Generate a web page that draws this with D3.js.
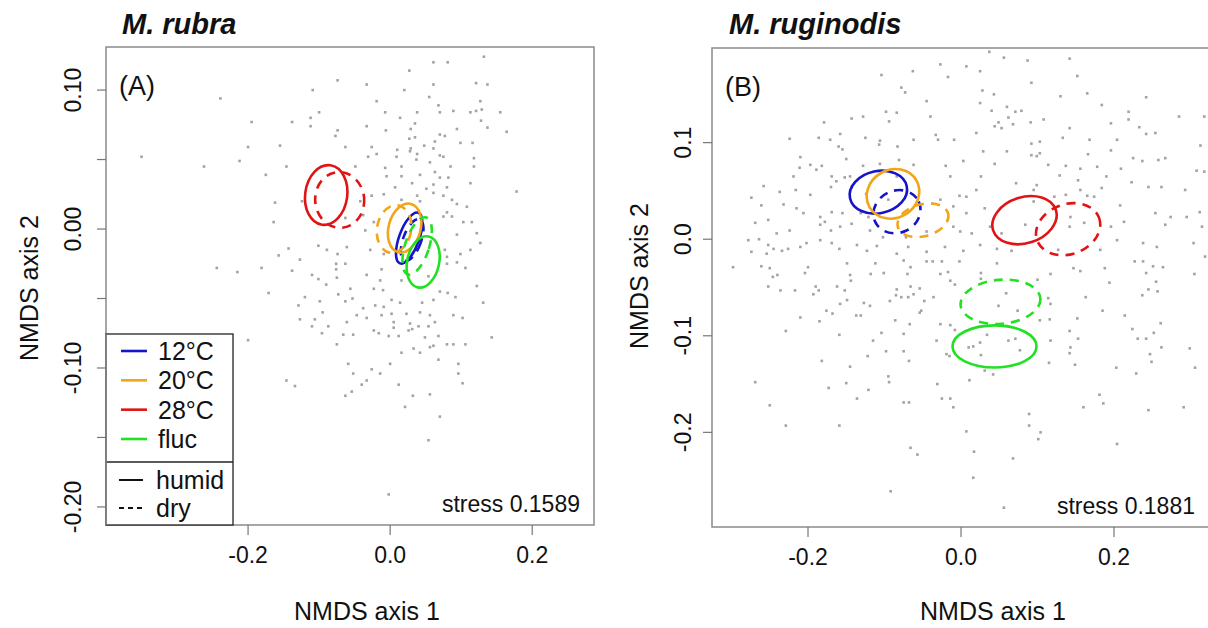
<!DOCTYPE html>
<html><head><meta charset="utf-8">
<script src="https://cdn.jsdelivr.net/npm/d3@7/dist/d3.min.js"></script>
<style>
body{margin:0;background:#fff;}
svg text{font-family:"Liberation Sans",Arial,sans-serif;fill:#111;}
</style></head>
<body><svg id="c" width="1208" height="628"></svg>
<script>
// ---------------- data ----------------
const temps = ["12°C","20°C","28°C","fluc"];
const tempColors = ["#1414c8","#f2a516","#e01414","#22e022"];
const conds = ["humid","dry"];
const titles = ["M. rubra","M. ruginodis"];
const panelTags = ["(A)","(B)"];
const stressA = "stress 0.1589", stressB = "stress 0.1881";
const xTicksA = [-0.2,0.0,0.2];
const yTicksA = [0.10,0.05,0.00,-0.05,-0.10,-0.15,-0.20];
const yLabelsA = [0.10,0.00,-0.10,-0.20];
const xTicksB = [-0.2,0.0,0.2];
const yTicksB = [0.1,0.0,-0.1,-0.2];

// ellipses: temp, condition, centre, radii (data units), tilt (deg)
const ellA = [
 {t:"12°C",c:"humid",cx:0.0268,cy:-0.0065,rx:0.0141,ry:0.0194,a:20},
 {t:"12°C",c:"dry",cx:0.031,cy:-0.0079,rx:0.0127,ry:0.0158,a:20},
 {t:"20°C",c:"humid",cx:0.0204,cy:0.0007,rx:0.0225,ry:0.018,a:15},
 {t:"20°C",c:"dry",cx:0.0056,cy:0.0,rx:0.024,ry:0.0173,a:10},
 {t:"28°C",c:"humid",cx:-0.090,cy:0.0245,rx:0.0296,ry:0.0216,a:8},
 {t:"28°C",c:"dry",cx:-0.071,cy:0.0209,rx:0.0345,ry:0.0201,a:-5},
 {t:"fluc",c:"humid",cx:0.0465,cy:-0.0237,rx:0.0225,ry:0.0187,a:12},
 {t:"fluc",c:"dry",cx:0.038,cy:-0.0122,rx:0.0169,ry:0.0216,a:18}
];
const ellB = [
 {t:"12°C",c:"humid",cx:-0.108,cy:0.0487,rx:0.0379,ry:0.0218,a:-12},
 {t:"12°C",c:"dry",cx:-0.0837,cy:0.0285,rx:0.0314,ry:0.0218,a:-25},
 {t:"20°C",c:"humid",cx:-0.0889,cy:0.047,rx:0.0353,ry:0.0249,a:-30},
 {t:"20°C",c:"dry",cx:-0.0497,cy:0.0197,rx:0.034,ry:0.0166,a:-15},
 {t:"28°C",c:"humid",cx:0.083,cy:0.0197,rx:0.0431,ry:0.0238,a:-18},
 {t:"28°C",c:"dry",cx:0.140,cy:0.0104,rx:0.0431,ry:0.0259,a:-20},
 {t:"fluc",c:"humid",cx:0.0438,cy:-0.111,rx:0.0549,ry:0.0218,a:0},
 {t:"fluc",c:"dry",cx:0.0516,cy:-0.0648,rx:0.0523,ry:0.0228,a:-5}
];

// sample scores (NMDS axis 1, axis 2)
const ptsA = [
[0.132,0.124],[0.061,0.120],[0.081,0.120],[0.027,0.114],[-0.074,0.107],[-0.033,0.104],[0.061,0.104],[0.121,0.105],[0.137,0.104],[-0.109,0.100],
[0.020,0.100],[-0.239,0.094],[0.055,0.095],[-0.019,0.092],[0.127,0.092],[0.068,0.089],[0.089,0.085],[0.113,0.084],[0.121,0.085],[0.129,0.086],
[0.155,0.084],[-0.100,0.084],[-0.007,0.084],[0.038,0.084],[0.070,0.084],[0.014,0.080],[-0.112,0.080],[-0.195,0.077],[-0.138,0.077],[0.128,0.078],
[-0.112,0.074],[-0.033,0.074],[0.035,0.076],[-0.006,0.071],[0.029,0.072],[0.094,0.072],[0.137,0.073],[0.164,0.070],[-0.074,0.071],[-0.077,0.067],
[0.070,0.068],[0.077,0.067],[0.035,0.066],[0.027,0.065],[0.063,0.063],[0.099,0.062],[0.116,0.062],[-0.155,0.060],[-0.200,0.059],[-0.063,0.059],
[-0.026,0.059],[0.010,0.057],[0.029,0.058],[0.061,0.058],[0.048,0.060],[-0.019,0.054],[0.028,0.056],[0.038,0.054],[-0.031,0.052],[0.070,0.053],
[0.075,0.052],[0.009,0.052],[0.037,0.050],[0.118,0.051],[-0.212,0.049],[-0.262,0.045],[-0.350,0.052],[-0.146,0.045],[-0.049,0.045],[-0.007,0.044],
[0.016,0.045],[0.056,0.048],[0.085,0.045],[0.118,0.045],[-0.175,0.039],[-0.005,0.038],[0.016,0.038],[0.042,0.039],[0.063,0.041],[0.070,0.037],
[0.082,0.037],[0.113,0.033],[0.007,0.030],[0.031,0.033],[0.061,0.032],[0.178,0.027],[0.051,0.029],[0.080,0.030],[0.075,0.024],[0.061,0.026],
[-0.009,0.025],[-0.026,0.024],[0.038,0.024],[0.016,0.021],[0.042,0.020],[0.087,0.021],[0.094,0.018],[0.108,0.016],[0.080,0.012],[-0.162,0.019],
[-0.164,0.005],[-0.124,0.020],[-0.042,0.020],[-0.038,0.010],[-0.023,0.005],[-0.063,0.008],[0.075,0.009],[0.087,0.009],[0.103,0.005],[0.115,0.005],
[0.094,-0.004],[0.122,-0.003],[0.127,-0.010],[0.099,-0.018],[0.077,-0.015],[-0.035,-0.001],[-0.061,-0.013],[-0.074,-0.018],[-0.089,-0.015],[-0.101,-0.012],
[-0.028,-0.015],[-0.009,-0.018],[-0.143,-0.014],[-0.157,-0.019],[-0.127,-0.022],[-0.063,-0.025],[-0.012,-0.029],[-0.181,-0.028],[-0.244,-0.028],[0.094,-0.024],
[0.113,-0.015],[0.080,-0.020],[-0.215,-0.031],[-0.138,-0.030],[-0.076,-0.025],[-0.076,-0.029],[0.080,-0.025],[0.106,-0.028],[-0.110,-0.033],[-0.101,-0.036],
[-0.075,-0.035],[-0.033,-0.033],[-0.014,-0.037],[0.016,-0.037],[0.054,-0.034],[-0.171,-0.046],[-0.120,-0.049],[-0.090,-0.040],[-0.073,-0.047],[-0.056,-0.043],
[-0.023,-0.043],[-0.010,-0.044],[0.070,-0.045],[0.081,-0.046],[0.092,-0.049],[0.122,-0.041],[0.131,-0.053],[-0.129,-0.055],[-0.099,-0.052],[-0.063,-0.052],
[-0.053,-0.050],[0.014,-0.053],[0.002,-0.051],[0.045,-0.053],[0.061,-0.051],[-0.038,-0.057],[-0.021,-0.055],[-0.009,-0.056],[-0.127,-0.065],[-0.106,-0.065],
[-0.095,-0.060],[-0.061,-0.067],[-0.047,-0.062],[-0.033,-0.064],[-0.012,-0.062],[0.002,-0.061],[0.023,-0.061],[0.042,-0.060],[0.056,-0.062],[0.089,-0.062],
[0.102,-0.064],[-0.110,-0.070],[-0.096,-0.075],[-0.087,-0.070],[-0.066,-0.076],[-0.052,-0.076],[-0.023,-0.073],[-0.016,-0.075],[0.005,-0.067],[0.005,-0.071],
[0.026,-0.073],[0.028,-0.068],[0.040,-0.070],[0.054,-0.070],[0.063,-0.067],[-0.075,-0.083],[-0.002,-0.077],[0.012,-0.077],[0.031,-0.072],[0.049,-0.078],
[0.061,-0.084],[0.068,-0.077],[0.080,-0.083],[0.089,-0.083],[0.106,-0.083],[0.143,-0.078],[-0.200,-0.080],[-0.059,-0.097],[-0.052,-0.104],[-0.026,-0.101],
[-0.014,-0.104],[0.000,-0.097],[0.016,-0.089],[0.033,-0.086],[0.042,-0.089],[0.056,-0.085],[0.068,-0.094],[0.096,-0.097],[-0.033,-0.109],[-0.040,-0.112],
[0.012,-0.112],[0.096,-0.104],[0.102,-0.111],[-0.146,-0.109],[-0.134,-0.113],[-0.063,-0.120],[-0.054,-0.117],[0.032,-0.120],[0.056,-0.119],[0.021,-0.128],
[0.070,-0.135],[0.054,-0.152],[-0.002,-0.191]
];
const ptsB = [
[0.037,0.194],[0.056,0.188],[0.087,0.185],[0.142,0.187],[-0.027,0.181],[0.007,0.179],[0.025,0.174],[-0.063,0.174],[-0.104,0.170],[-0.017,0.168],
[0.092,0.162],[0.152,0.169],[-0.078,0.157],[-0.073,0.152],[0.028,0.154],[0.043,0.150],[0.165,0.151],[-0.045,0.143],[0.130,0.148],[0.242,0.147],
[0.025,0.141],[0.060,0.137],[0.071,0.132],[0.079,0.133],[0.184,0.139],[0.040,0.133],[-0.098,0.132],[-0.084,0.131],[-0.040,0.127],[-0.128,0.127],
[-0.143,0.125],[0.062,0.126],[0.068,0.119],[0.108,0.124],[0.219,0.132],[0.219,0.124],[0.285,0.127],[0.318,0.127],[-0.179,0.121],[-0.094,0.122],
[0.049,0.121],[0.091,0.121],[0.044,0.117],[0.053,0.115],[0.142,0.115],[0.196,0.120],[0.233,0.116],[-0.224,0.104],[-0.186,0.105],[-0.171,0.103],
[-0.158,0.109],[-0.125,0.105],[-0.106,0.102],[-0.107,0.098],[-0.083,0.096],[-0.062,0.103],[-0.033,0.108],[-0.030,0.103],[-0.009,0.103],[0.020,0.110],
[0.092,0.099],[0.103,0.101],[0.133,0.105],[0.168,0.103],[0.204,0.103],[0.242,0.109],[0.254,0.110],[0.313,0.097],[-0.160,0.096],[-0.155,0.093],
[0.029,0.091],[0.060,0.091],[0.092,0.087],[0.099,0.086],[0.103,0.089],[0.166,0.088],[0.196,0.092],[0.225,0.084],[0.267,0.084],[-0.210,0.085],
[-0.150,0.083],[-0.211,0.074],[-0.197,0.077],[-0.182,0.076],[-0.128,0.076],[-0.106,0.078],[-0.081,0.082],[-0.062,0.077],[-0.020,0.076],[0.003,0.081],
[0.044,0.078],[0.114,0.077],[0.137,0.076],[0.156,0.073],[0.178,0.075],[0.209,0.073],[0.237,0.081],[0.258,0.082],[-0.219,0.065],[-0.189,0.072],
[-0.169,0.065],[-0.152,0.064],[-0.163,0.060],[-0.145,0.065],[-0.084,0.065],[-0.014,0.065],[0.026,0.065],[0.072,0.058],[0.099,0.056],[0.129,0.066],
[0.153,0.061],[0.190,0.065],[0.223,0.059],[0.308,0.071],[0.318,0.070],[-0.258,0.055],[-0.237,0.049],[-0.216,0.051],[-0.197,0.046],[-0.170,0.054],
[-0.143,0.054],[-0.124,0.047],[-0.002,0.045],[0.007,0.044],[0.020,0.051],[0.095,0.051],[0.156,0.051],[0.165,0.045],[0.184,0.053],[0.245,0.054],
[0.262,0.054],[0.293,0.051],[-0.274,0.043],[-0.261,0.035],[-0.232,0.036],[-0.215,0.032],[-0.206,0.027],[-0.184,0.023],[-0.169,0.028],[-0.155,0.027],
[-0.131,0.027],[-0.095,0.041],[-0.027,0.041],[-0.010,0.034],[0.007,0.027],[0.031,0.032],[0.095,0.039],[0.122,0.044],[0.137,0.046],[0.143,0.023],
[0.174,0.044],[0.208,0.035],[0.254,0.027],[0.274,0.023],[0.312,0.028],[-0.269,0.017],[-0.252,0.020],[-0.241,0.006],[-0.224,0.009],[-0.184,0.015],
[-0.178,0.018],[-0.170,0.009],[-0.158,0.013],[-0.121,0.023],[-0.143,0.016],[-0.119,0.009],[-0.102,0.002],[-0.072,0.002],[-0.045,0.008],[-0.010,0.013],
[-0.001,0.008],[0.014,0.006],[0.038,0.013],[0.053,0.006],[0.084,0.015],[0.142,0.013],[0.161,0.017],[0.196,0.013],[0.213,0.018],[0.267,0.015],
[0.295,0.023],[0.315,0.013],[-0.278,-0.001],[-0.264,0.000],[-0.252,-0.006],[-0.245,-0.010],[-0.226,-0.010],[-0.254,-0.015],[-0.274,-0.013],[-0.234,-0.012],
[-0.210,-0.008],[-0.202,-0.004],[-0.184,-0.001],[-0.169,-0.004],[-0.159,-0.010],[-0.136,-0.006],[-0.123,-0.012],[-0.110,-0.007],[-0.084,-0.015],[-0.069,-0.008],
[-0.045,-0.013],[-0.021,-0.008],[0.003,-0.012],[0.025,-0.006],[0.047,-0.010],[0.066,-0.012],[0.127,-0.011],[0.182,-0.011],[0.204,-0.001],[0.238,-0.004],
[0.256,-0.008],[0.304,-0.004],[0.319,-0.018],[0.227,-0.023],[0.264,-0.029],[-0.298,-0.029],[-0.200,-0.029],[-0.149,-0.025],[-0.075,-0.022],[-0.045,-0.023],
[-0.025,-0.023],[0.047,-0.025],[0.147,-0.030],[0.188,-0.030],[-0.261,-0.028],[-0.250,-0.030],[-0.240,-0.037],[-0.246,-0.039],[-0.204,-0.035],[-0.145,-0.037],
[-0.144,-0.043],[-0.112,-0.025],[-0.118,-0.036],[-0.101,-0.035],[-0.070,-0.036],[-0.066,-0.029],[-0.037,-0.023],[-0.027,-0.036],[-0.017,-0.034],[-0.014,-0.043],
[-0.008,-0.047],[-0.002,-0.023],[0.026,-0.035],[0.026,-0.041],[0.100,-0.042],[0.117,-0.036],[0.156,-0.033],[0.194,-0.045],[0.238,-0.023],[0.251,-0.028],
[0.242,-0.035],[0.255,-0.044],[0.257,-0.054],[0.245,-0.052],[0.237,-0.058],[0.305,-0.036],[-0.252,-0.049],[-0.236,-0.053],[-0.217,-0.053],[-0.190,-0.049],
[-0.186,-0.053],[-0.193,-0.057],[-0.162,-0.049],[-0.152,-0.053],[-0.149,-0.063],[-0.158,-0.067],[-0.127,-0.066],[-0.119,-0.069],[-0.084,-0.052],[-0.085,-0.058],
[-0.078,-0.060],[-0.066,-0.049],[-0.062,-0.057],[-0.054,-0.051],[-0.069,-0.060],[-0.048,-0.064],[-0.036,-0.060],[-0.052,-0.074],[-0.054,-0.076],[-0.093,-0.064],
[-0.086,-0.084],[-0.067,-0.088],[-0.027,-0.088],[-0.014,-0.089],[-0.008,-0.094],[-0.176,-0.074],[-0.168,-0.077],[-0.137,-0.079],[-0.131,-0.079],[-0.210,-0.081],
[-0.185,-0.085],[-0.229,-0.095],[-0.159,-0.099],[-0.104,-0.097],[-0.075,-0.098],[-0.115,-0.105],[-0.098,-0.116],[-0.075,-0.116],[-0.032,-0.105],[-0.019,-0.119],
[-0.015,-0.121],[0.010,-0.112],[0.016,-0.111],[0.025,-0.107],[0.034,-0.099],[0.071,-0.103],[0.062,-0.105],[0.077,-0.115],[0.026,-0.120],[0.049,-0.069],
[0.059,-0.056],[0.074,-0.074],[0.114,-0.061],[0.117,-0.067],[0.103,-0.084],[0.116,-0.083],[0.117,-0.105],[0.115,-0.128],[0.152,-0.082],[0.163,-0.060],
[0.185,-0.074],[0.214,-0.079],[0.224,-0.093],[0.231,-0.103],[0.242,-0.103],[0.252,-0.097],[0.261,-0.087],[0.142,-0.095],[0.153,-0.103],[0.143,-0.112],
[0.142,-0.118],[0.149,-0.130],[0.203,-0.133],[0.229,-0.139],[0.247,-0.119],[0.249,-0.127],[0.262,-0.112],[0.299,-0.113],[0.306,-0.133],[-0.182,-0.126],
[-0.145,-0.132],[-0.122,-0.121],[-0.095,-0.142],[-0.094,-0.148],[-0.068,-0.126],[0.011,-0.146],[0.031,-0.136],[0.042,-0.140],[-0.269,-0.148],[-0.173,-0.154],
[-0.150,-0.149],[-0.121,-0.156],[-0.136,-0.165],[-0.075,-0.169],[-0.068,-0.169],[-0.031,-0.150],[-0.025,-0.165],[-0.014,-0.165],[-0.010,-0.174],[-0.250,-0.172],
[0.160,-0.174],[0.181,-0.161],[0.186,-0.170],[0.245,-0.177],[0.291,-0.174],[-0.229,-0.193],[-0.159,-0.193],[0.007,-0.199],[0.089,-0.181],[0.089,-0.193],
[0.104,-0.200],[0.101,-0.207],[-0.066,-0.216],[-0.057,-0.223],[0.017,-0.220],[0.068,-0.227],[0.204,-0.212],[0.016,-0.247],[-0.092,-0.261],[0.056,-0.278]
];

// ---------------- drawing ----------------
const svg = d3.select("#c");
const FONT_TICK = 23, FONT_LAB = 25;

function drawPanel(o) {
  const x = d3.scaleLinear().domain(o.xDom).range([o.left, o.right]);
  const y = d3.scaleLinear().domain(o.yDom).range([o.bottom, o.top]);
  const g = svg.append("g");
  const cid = "clip" + o.id;
  svg.append("clipPath").attr("id", cid).append("rect")
    .attr("x", o.left).attr("y", o.top).attr("width", o.right - o.left).attr("height", o.bottom - o.top);
  const plot = g.append("g").attr("clip-path", `url(#${cid})`);

  plot.selectAll("rect.pt").data(o.pts).join("rect").attr("class","pt")
    .attr("x", d => x(d[0]) - 1.3).attr("y", d => y(d[1]) - 1.3)
    .attr("width", 2.6).attr("height", 2.6).attr("fill", "#a3a3a3");

  const kx = x(1) - x(0), ky = y(0) - y(1);
  plot.selectAll("ellipse").data(o.ell).join("ellipse")
    .attr("cx", d => x(d.cx)).attr("cy", d => y(d.cy))
    .attr("rx", d => d.rx * kx).attr("ry", d => d.ry * ky)
    .attr("transform", d => `rotate(${d.a},${x(d.cx)},${y(d.cy)})`)
    .attr("fill", "none")
    .attr("stroke", d => tempColors[temps.indexOf(d.t)])
    .attr("stroke-width", 2.6)
    .attr("stroke-dasharray", d => d.c === "dry" ? "9,7" : null);

  // frame
  g.append("rect").attr("x", o.left).attr("y", o.top)
    .attr("width", o.right - o.left).attr("height", o.bottom - o.top)
    .attr("fill", "none").attr("stroke", "#8a8a8a").attr("stroke-width", 1.5);

  // x axis
  const xa = g.append("g");
  xa.selectAll("line").data(o.xTicks).join("line")
    .attr("x1", d => x(d)).attr("x2", d => x(d))
    .attr("y1", o.bottom).attr("y2", o.bottom + 10)
    .attr("stroke", "#777").attr("stroke-width", 1.2);
  xa.selectAll("text").data(o.xTicks).join("text")
    .attr("x", d => x(d)).attr("y", o.bottom + 38)
    .attr("text-anchor", "middle").attr("font-size", FONT_TICK)
    .text(d => d.toFixed(1));
  g.append("text").attr("x", o.xTitleX).attr("y", 620)
    .attr("text-anchor", "middle").attr("font-size", FONT_LAB).text("NMDS axis 1");

  // y axis
  const ya = g.append("g");
  ya.selectAll("line").data(o.yTicks).join("line")
    .attr("x1", o.left - 9).attr("x2", o.left)
    .attr("y1", d => y(d)).attr("y2", d => y(d))
    .attr("stroke", "#777").attr("stroke-width", 1.2);
  ya.selectAll("text").data(o.yLabels).join("text")
    .attr("transform", d => `translate(${o.left - o.yLabOff},${y(d)}) rotate(-90)`)
    .attr("text-anchor", "middle").attr("font-size", FONT_TICK)
    .text(d => d.toFixed(o.yDec));
  g.append("text").attr("transform", `translate(${o.yTitleX},${o.yTitleY}) rotate(-90)`)
    .attr("text-anchor", "middle").attr("font-size", FONT_LAB).text("NMDS axis 2");

  // title, tag, stress
  g.append("text").attr("x", o.titleX).attr("y", 34)
    .attr("font-size", 29).attr("font-weight", "bold").attr("font-style", "italic").text(o.title);
  g.append("text").attr("x", o.left + 13).attr("y", o.top + 48)
    .attr("font-size", 27).text(o.tag);
  g.append("text").attr("x", o.stressX).attr("y", o.bottom - 13)
    .attr("text-anchor", "end").attr("font-size", FONT_TICK).text(o.stress);
  return {x, y, g};
}

const A = drawPanel({id:"A", left:106, right:594, top:47, bottom:525,
  xDom:[-0.4,0.287], yDom:[-0.213,0.131], pts:ptsA, ell:ellA,
  xTicks:xTicksA, yTicks:yTicksA, yLabels:yLabelsA, yDec:2, yLabOff:25,
  xTitleX:367, yTitleX:38, yTitleY:288, titleX:122, title:titles[0], tag:panelTags[0],
  stress:stressA, stressX:580});

const B = drawPanel({id:"B", left:712, right:1215, top:48, bottom:527,
  xDom:[-0.3255,0.332], yDom:[-0.298,0.198], pts:ptsB, ell:ellB,
  xTicks:xTicksB, yTicks:yTicksB, yLabels:yTicksB, yDec:1, yLabOff:21,
  xTitleX:993, yTitleX:648, yTitleY:276, titleX:729, title:titles[1], tag:panelTags[1],
  stress:stressB, stressX:1195});

// legend (panel A)
const lg = svg.append("g");
const lgL = 106, lgR = 233, lgT = 334, lgB = 525, lgDiv = 462;
lg.append("rect").attr("x", lgL).attr("y", lgT).attr("width", lgR - lgL).attr("height", lgB - lgT)
  .attr("fill", "#fff").attr("stroke", "#222").attr("stroke-width", 1.3);
lg.append("line").attr("x1", lgL).attr("x2", lgR).attr("y1", lgDiv).attr("y2", lgDiv)
  .attr("stroke", "#222").attr("stroke-width", 1.3);
const rowY = d3.scalePoint().domain(temps).range([351, 439]);
temps.forEach((t, i) => {
  lg.append("line").attr("x1", 121).attr("x2", 147).attr("y1", rowY(t)).attr("y2", rowY(t))
    .attr("stroke", tempColors[i]).attr("stroke-width", 2.6);
  lg.append("text").attr("x", 158).attr("y", rowY(t) + 9).attr("font-size", FONT_LAB).text(t);
});
const condY = d3.scalePoint().domain(conds).range([480, 508]);
conds.forEach(c => {
  lg.append("line").attr("x1", 119).attr("x2", 143).attr("y1", condY(c)).attr("y2", condY(c))
    .attr("stroke", "#111").attr("stroke-width", 2)
    .attr("stroke-dasharray", c === "dry" ? "5,4" : null);
  lg.append("text").attr("x", 156).attr("y", condY(c) + 9).attr("font-size", FONT_LAB).text(c);
});
// re-draw the frame edge on top of the legend box
svg.append("line").attr("x1", 106).attr("x2", 106).attr("y1", 334).attr("y2", 525)
  .attr("stroke", "#8a8a8a").attr("stroke-width", 1.5);
</script></body></html>
